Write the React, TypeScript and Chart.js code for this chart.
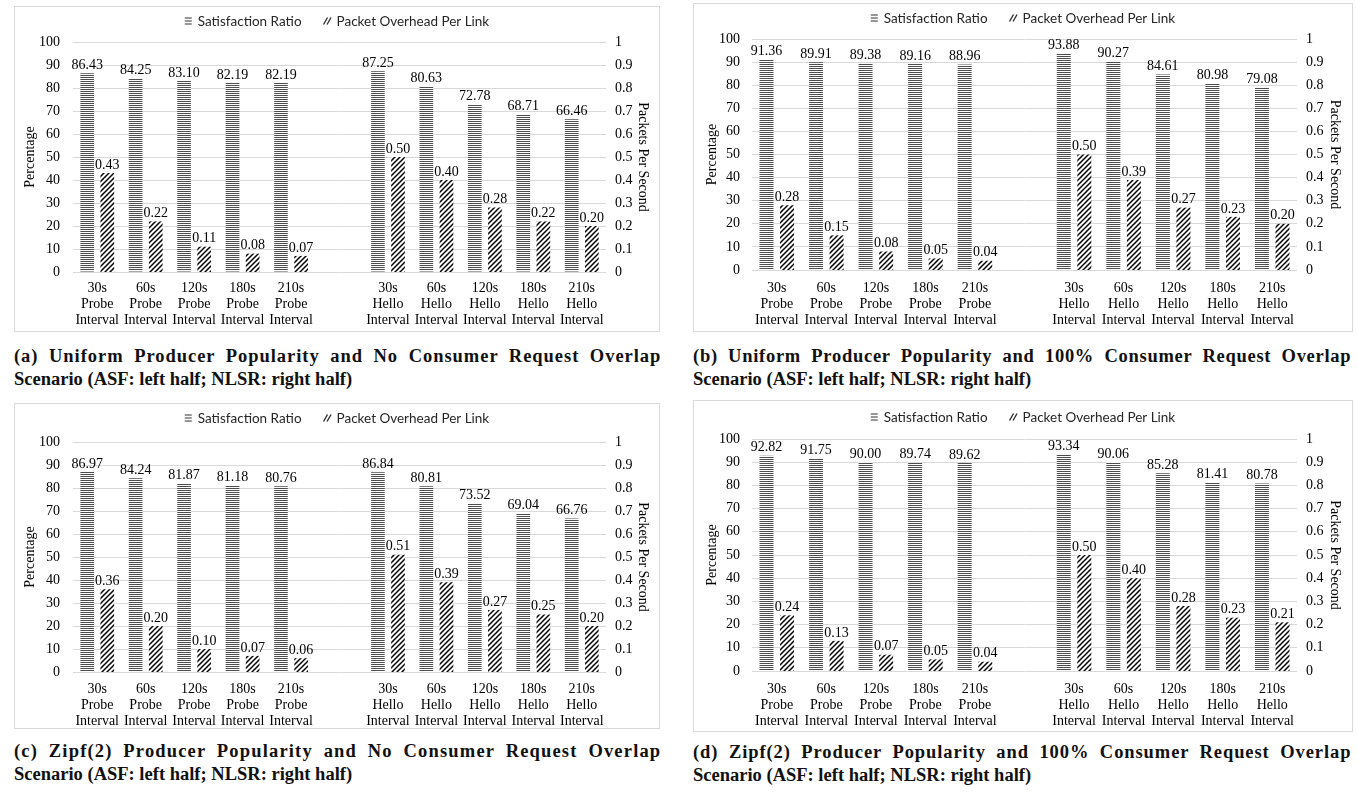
import React, { useEffect, useRef } from "react";
import { Chart, registerables } from "chart.js";

Chart.register(...registerables);

// ---------- data ----------
const categories: string[][] = [
  ["30s", "Probe", "Interval"],
  ["60s", "Probe", "Interval"],
  ["120s", "Probe", "Interval"],
  ["180s", "Probe", "Interval"],
  ["210s", "Probe", "Interval"],
  [""],
  ["30s", "Hello", "Interval"],
  ["60s", "Hello", "Interval"],
  ["120s", "Hello", "Interval"],
  ["180s", "Hello", "Interval"],
  ["210s", "Hello", "Interval"],
];

const seriesNames = ["Satisfaction Ratio", "Packet Overhead Per Link"];
const leftAxisTitle = "Percentage";
const rightAxisTitle = "Packets Per Second";
const leftAxisRange = [0, 100, 10];
const rightAxisRange = [0, 1, 0.1];

const satisfactionA = [86.43, 84.25, 83.1, 82.19, 82.19, null, 87.25, 80.63, 72.78, 68.71, 66.46];
const overheadA = [0.43, 0.22, 0.11, 0.08, 0.07, null, 0.5, 0.4, 0.28, 0.22, 0.2];

const satisfactionB = [91.36, 89.91, 89.38, 89.16, 88.96, null, 93.88, 90.27, 84.61, 80.98, 79.08];
const overheadB = [0.28, 0.15, 0.08, 0.05, 0.04, null, 0.5, 0.39, 0.27, 0.23, 0.2];

const satisfactionC = [86.97, 84.24, 81.87, 81.18, 80.76, null, 86.84, 80.81, 73.52, 69.04, 66.76];
const overheadC = [0.36, 0.2, 0.1, 0.07, 0.06, null, 0.51, 0.39, 0.27, 0.25, 0.2];

const satisfactionD = [92.82, 91.75, 90.0, 89.74, 89.62, null, 93.34, 90.06, 85.28, 81.41, 80.78];
const overheadD = [0.24, 0.13, 0.07, 0.05, 0.04, null, 0.5, 0.4, 0.28, 0.23, 0.21];

const captionA = [
  "(a) Uniform Producer Popularity and No Consumer Request Overlap",
  "Scenario (ASF: left half; NLSR: right half)",
];
const captionB = [
  "(b) Uniform Producer Popularity and 100% Consumer Request Overlap",
  "Scenario (ASF: left half; NLSR: right half)",
];
const captionC = [
  "(c) Zipf(2) Producer Popularity and No Consumer Request Overlap",
  "Scenario (ASF: left half; NLSR: right half)",
];
const captionD = [
  "(d) Zipf(2) Producer Popularity and 100% Consumer Request Overlap",
  "Scenario (ASF: left half; NLSR: right half)",
];

// ---------- styling ----------
const SERIF = "Liberation Serif";
const SANS = "Lato";
const CAPTION_SIZE = 18.5;
const CAPTION_WORD_SPACING = 5;

function makeStripePattern(): CanvasPattern | string {
  const c = document.createElement("canvas");
  c.width = 4;
  c.height = 2;
  const x = c.getContext("2d");
  if (!x) return "#888";
  x.fillStyle = "#ffffff";
  x.fillRect(0, 0, 4, 2);
  x.fillStyle = "#4d4d4d";
  x.fillRect(0, 0, 4, 1);
  return x.createPattern(c, "repeat") || "#888";
}

function makeHatchPattern(): CanvasPattern | string {
  const s = 5;
  const c = document.createElement("canvas");
  c.width = s;
  c.height = s;
  const x = c.getContext("2d");
  if (!x) return "#333";
  x.fillStyle = "#ffffff";
  x.fillRect(0, 0, s, s);
  x.strokeStyle = "#000000";
  x.lineWidth = 1.5;
  x.beginPath();
  x.moveTo(-1, s + 1);
  x.lineTo(s + 1, -1);
  x.moveTo(-s - 1, s + 1);
  x.lineTo(1, -1);
  x.moveTo(-1, 2 * s + 1);
  x.lineTo(2 * s + 1, -1);
  x.stroke();
  return x.createPattern(c, "repeat") || "#333";
}

function measureCaption(text: string): number {
  const c = document.createElement("canvas").getContext("2d");
  if (!c) return 0;
  c.font = `bold ${CAPTION_SIZE}px "${SERIF}"`;
  return c.measureText(text).width;
}

function fitLetterSpacing(text: string, target: number): number {
  const w = measureCaption(text);
  const spaces = text.split(" ").length - 1;
  const rest = target - w - spaces * CAPTION_WORD_SPACING;
  return Math.max(0, rest / text.length);
}

const valueLabelPlugin = {
  id: "valueLabels",
  afterDatasetsDraw(chart: any) {
    const ctx = chart.ctx;
    ctx.save();
    ctx.font = `14px "${SERIF}"`;
    ctx.fillStyle = "#000";
    ctx.textAlign = "center";
    ctx.textBaseline = "bottom";
    chart.data.datasets.forEach((ds: any, di: number) => {
      const meta = chart.getDatasetMeta(di);
      meta.data.forEach((el: any, i: number) => {
        const v = ds.data[i];
        if (v === null || v === undefined) return;
        ctx.fillText(Number(v).toFixed(2), el.x, el.y - 1);
      });
    });
    ctx.restore();
  },
};

const customLegendPlugin = {
  id: "customLegend",
  afterDraw(chart: any, _args: any, opts: any) {
    const ctx = chart.ctx;
    const y = opts.y;
    ctx.save();
    ctx.font = `13.5px "${SANS}"`;
    const iconW = 8;
    const gap = 5;
    const itemGap = 22;
    const labels: string[] = chart.data.datasets.map((d: any) => d.label);
    const widths = labels.map((t) => iconW + gap + ctx.measureText(t).width);
    const total = widths.reduce((a, b) => a + b, 0) + itemGap * (labels.length - 1);
    let x = chart.width / 2 - total / 2;
    labels.forEach((t, i) => {
      ctx.strokeStyle = "#333";
      ctx.fillStyle = "#333";
      if (i === 0) {
        for (let k = -1; k <= 1; k++) {
          ctx.fillRect(x, Math.round(y + k * 2.7) - 0.5, iconW - 1, 1);
        }
      } else {
        ctx.lineWidth = 1.4;
        ctx.beginPath();
        ctx.moveTo(x, y + 3.5);
        ctx.lineTo(x + 4, y - 3.5);
        ctx.moveTo(x + 3.5, y + 3.5);
        ctx.lineTo(x + 7.5, y - 3.5);
        ctx.stroke();
      }
      ctx.fillStyle = "#262626";
      ctx.textAlign = "left";
      ctx.textBaseline = "middle";
      ctx.fillText(t, x + iconW + gap, y + 0.5);
      x += widths[i] + itemGap;
    });
    ctx.restore();
  },
};

interface PanelCfg {
  left: number;
  top: number;
  width: number;
  height: number;
  plotLeft: number;
  plotRight: number;
  plotTop: number;
  plotBottom: number;
  legendY: number;
  leftTickPad: number;
  rightTickPad: number;
  xPad: number;
  leftTitleCenter: number;
  rightTitleOffset: number;
  captionTop: number;
  captionWidth: number;
}

const panelA: PanelCfg = {
  left: 14, top: 6, width: 646, height: 326,
  plotLeft: 58, plotRight: 591, plotTop: 35, plotBottom: 265,
  legendY: 14, leftTickPad: 13, rightTickPad: 9, xPad: 8,
  leftTitleCenter: 15, rightTitleOffset: 16, captionTop: 345, captionWidth: 648,
};
const panelB: PanelCfg = {
  left: 693, top: 3, width: 660, height: 329,
  plotLeft: 58, plotRight: 603, plotTop: 35, plotBottom: 266,
  legendY: 14, leftTickPad: 12, rightTickPad: 9, xPad: 10,
  leftTitleCenter: 18, rightTitleOffset: 17, captionTop: 345, captionWidth: 659,
};
const panelC: PanelCfg = {
  left: 14, top: 403, width: 646, height: 326,
  plotLeft: 58, plotRight: 591, plotTop: 38, plotBottom: 268,
  legendY: 14, leftTickPad: 13, rightTickPad: 9, xPad: 9,
  leftTitleCenter: 15, rightTitleOffset: 16, captionTop: 740, captionWidth: 648,
};
const panelD: PanelCfg = {
  left: 693, top: 400, width: 660, height: 332,
  plotLeft: 58, plotRight: 603, plotTop: 38, plotBottom: 270,
  legendY: 16, leftTickPad: 12, rightTickPad: 9, xPad: 10,
  leftTitleCenter: 18, rightTitleOffset: 17, captionTop: 741, captionWidth: 659,
};

function ChartPanel(props: {
  cfg: PanelCfg;
  satisfaction: (number | null)[];
  overhead: (number | null)[];
  caption: string[];
}) {
  const { cfg, satisfaction, overhead, caption } = props;
  const ref = useRef<HTMLCanvasElement | null>(null);
  const cw = cfg.width - 2;
  const ch = cfg.height - 2;

  useEffect(() => {
    if (!ref.current) return;
    const titleLH = 14 * 1.2;
    const chart = new Chart(ref.current, {
      type: "bar",
      data: {
        labels: categories as any,
        datasets: [
          {
            label: seriesNames[0],
            data: satisfaction as any,
            yAxisID: "y",
            backgroundColor: makeStripePattern() as any,
            borderWidth: 0,
            categoryPercentage: 0.83,
            barPercentage: 0.68,
          },
          {
            label: seriesNames[1],
            data: overhead as any,
            yAxisID: "y1",
            backgroundColor: makeHatchPattern() as any,
            borderWidth: 0,
            categoryPercentage: 0.83,
            barPercentage: 0.68,
          },
        ],
      },
      options: {
        animation: false,
        responsive: false,
        maintainAspectRatio: false,
        events: [],
        font: { family: SERIF, size: 14 },
        layout: { padding: { top: cfg.plotTop, left: 0, right: 0, bottom: 0 } },
        plugins: {
          legend: { display: false },
          tooltip: { enabled: false },
          customLegend: { y: cfg.legendY },
        } as any,
        scales: {
          x: {
            grid: { display: false, drawTicks: false },
            border: { display: false },
            ticks: {
              font: { family: SERIF, size: 14, lineHeight: 1.15 },
              color: "#000",
              maxRotation: 0,
              autoSkip: false,
              padding: cfg.xPad,
            },
            afterFit: (s: any) => {
              s.height = ch - cfg.plotBottom;
            },
          },
          y: {
            position: "left",
            min: leftAxisRange[0],
            max: leftAxisRange[1],
            ticks: {
              stepSize: leftAxisRange[2],
              font: { family: SERIF, size: 14 },
              color: "#000",
              padding: cfg.leftTickPad,
            },
            grid: { color: "#d9d9d9", drawTicks: false, lineWidth: 1 },
            border: { display: false },
            title: {
              display: true,
              text: leftAxisTitle,
              font: { family: SERIF, size: 14 },
              color: "#000",
              padding: { top: cfg.leftTitleCenter - titleLH / 2, bottom: 0 },
            },
            afterFit: (s: any) => {
              s.width = cfg.plotLeft;
            },
          },
          y1: {
            position: "right",
            min: rightAxisRange[0],
            max: rightAxisRange[1],
            ticks: {
              stepSize: rightAxisRange[2],
              font: { family: SERIF, size: 14 },
              color: "#000",
              padding: cfg.rightTickPad,
              callback: (v: any) => String(Math.round(Number(v) * 10) / 10),
            },
            grid: { display: false, drawTicks: false },
            border: { display: false },
            title: {
              display: true,
              text: rightAxisTitle,
              font: { family: SERIF, size: 14 },
              color: "#000",
              padding: { top: cfg.rightTitleOffset - titleLH / 2, bottom: 0 },
            },
            afterFit: (s: any) => {
              s.width = cw - cfg.plotRight;
            },
          },
        },
      } as any,
      plugins: [valueLabelPlugin, customLegendPlugin],
    });
    return () => chart.destroy();
  }, []);

  const ls1 = fitLetterSpacing(caption[0], cfg.captionWidth);

  return (
    <>
      <div
        style={{
          position: "absolute",
          left: cfg.left,
          top: cfg.top,
          width: cw,
          height: ch,
          border: "1px solid #d9d9d9",
          background: "#fff",
        }}
      >
        <canvas ref={ref} width={cw} height={ch} style={{ display: "block", width: cw, height: ch }} />
      </div>
      <div
        style={{
          position: "absolute",
          left: cfg.left,
          top: cfg.captionTop,
          fontFamily: `"${SERIF}", serif`,
          fontWeight: "bold",
          fontSize: CAPTION_SIZE,
          lineHeight: "23px",
          color: "#111",
          whiteSpace: "nowrap",
        }}
      >
        <div style={{ letterSpacing: `${ls1}px`, wordSpacing: `${CAPTION_WORD_SPACING}px` }}>{caption[0]}</div>
        <div>{caption[1]}</div>
      </div>
    </>
  );
}

export default function App() {
  return (
    <div
      style={{
        position: "absolute",
        left: 0,
        top: 0,
        width: 1357,
        height: 799,
        background: "#fff",
        overflow: "hidden",
      }}
    >
      <ChartPanel cfg={panelA} satisfaction={satisfactionA} overhead={overheadA} caption={captionA} />
      <ChartPanel cfg={panelB} satisfaction={satisfactionB} overhead={overheadB} caption={captionB} />
      <ChartPanel cfg={panelC} satisfaction={satisfactionC} overhead={overheadC} caption={captionC} />
      <ChartPanel cfg={panelD} satisfaction={satisfactionD} overhead={overheadD} caption={captionD} />
    </div>
  );
}
